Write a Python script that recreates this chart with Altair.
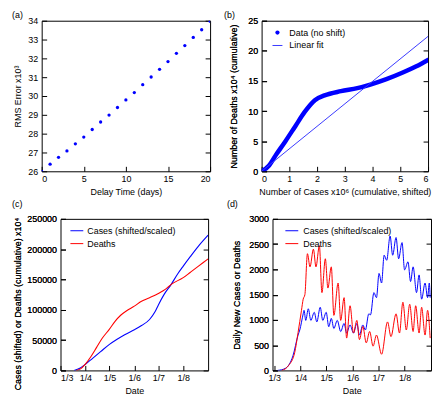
import altair as alt
import pandas as pd

FONT = "Liberation Sans"
BLUE = "#0000ff"
FIT_BLUE = "#3a3aff"
RED = "#ff0000"

# ---------------- data ----------------
# (a) RMS error vs delay
delay_days = list(range(21))
rms_error = [26.0, 26.38, 26.74, 27.08, 27.46, 27.82, 28.22, 28.62, 28.99, 29.39, 29.79,
             30.18, 30.6, 31.01, 31.42, 31.83, 32.27, 32.68, 33.11, 33.52, 33.97]

# (b) deaths vs cases (cumulative)
cases_shifted_m = [0, 0.27, 0.5, 0.86, 1.21, 1.56, 1.92, 2.27, 2.86, 3.45, 3.92, 4.5, 5.09, 5.56, 6.0]
deaths_cum_10k = [0, 0.97, 2.6, 5.0, 7.45, 9.9, 11.8, 12.6, 13.3, 13.8, 14.4, 15.3, 16.4, 17.4, 18.5]
fit_x = [0, 6]
fit_y = [0, 22.4]

# (c) cumulative series
cum_cases_dates = ["2020-03-18", "2020-03-25", "2020-04-01", "2020-04-10", "2020-04-20", "2020-05-01",
                   "2020-05-10", "2020-05-20", "2020-06-01", "2020-06-10", "2020-06-20", "2020-06-27",
                   "2020-07-01", "2020-07-08", "2020-07-17", "2020-07-25", "2020-08-01", "2020-08-10",
                   "2020-08-20", "2020-09-01"]
cum_cases_vals = [0, 3500, 10000, 20000, 31000, 43000, 51000, 59000, 67000, 74000, 84000, 97000,
                  108000, 125000, 142000, 159000, 172000, 188000, 205000, 223000]
cum_deaths_dates = ["2020-03-21", "2020-03-26", "2020-04-01", "2020-04-08", "2020-04-15", "2020-04-22",
                    "2020-05-01", "2020-05-08", "2020-05-15", "2020-05-22", "2020-06-01", "2020-06-10",
                    "2020-06-20", "2020-07-01", "2020-07-10", "2020-07-17", "2020-08-01", "2020-08-10",
                    "2020-08-20", "2020-09-01"]
cum_deaths_vals = [0, 2500, 10500, 23000, 38000, 53000, 68000, 81000, 91000, 98000, 106000, 114000,
                   120000, 127000, 134000, 142000, 153000, 162000, 172000, 184000]

# (d) daily series
daily_cases_dates = ["2020-03-05", "2020-03-14", "2020-03-23", "2020-03-29", "2020-03-31", "2020-04-04",
                     "2020-04-05", "2020-04-07", "2020-04-10", "2020-04-13", "2020-04-17", "2020-04-20",
                     "2020-04-24", "2020-04-27", "2020-05-01", "2020-05-04", "2020-05-07", "2020-05-10",
                     "2020-05-14", "2020-05-18", "2020-05-22", "2020-05-25", "2020-05-29", "2020-06-02",
                     "2020-06-06", "2020-06-09", "2020-06-13", "2020-06-16", "2020-06-20", "2020-06-22",
                     "2020-06-26", "2020-06-29", "2020-07-02", "2020-07-05", "2020-07-08", "2020-07-11",
                     "2020-07-15", "2020-07-18", "2020-07-22", "2020-07-25", "2020-07-29", "2020-08-01",
                     "2020-08-05", "2020-08-08", "2020-08-11", "2020-08-15", "2020-08-18", "2020-08-21",
                     "2020-08-25", "2020-08-28", "2020-08-30", "2020-08-31"]
daily_cases_vals = [0, 40, 290, 700, 800, 1120, 1190, 990, 1220, 990, 1150, 960,
                    1250, 990, 1150, 865, 1030, 830, 990, 770, 930, 740, 900, 740,
                    930, 700, 900, 800, 1120, 1100, 1540, 1440, 1920, 1730, 2280, 2180,
                    2660, 2280, 2630, 2210, 2530, 1990, 2150, 1760, 2050, 1540, 1890, 1410,
                    1730, 1440, 1730, 1440]
daily_deaths_dates = ["2020-03-10", "2020-03-18", "2020-03-25", "2020-03-29", "2020-04-02", "2020-04-04",
                      "2020-04-06", "2020-04-09", "2020-04-12", "2020-04-16", "2020-04-19", "2020-04-23",
                      "2020-04-26", "2020-04-30", "2020-05-03", "2020-05-07", "2020-05-10", "2020-05-15",
                      "2020-05-18", "2020-05-22", "2020-05-25", "2020-05-29", "2020-06-02", "2020-06-06",
                      "2020-06-09", "2020-06-13", "2020-06-17", "2020-06-21", "2020-06-25", "2020-06-29",
                      "2020-07-05", "2020-07-12", "2020-07-16", "2020-07-22", "2020-07-26", "2020-07-30",
                      "2020-08-03", "2020-08-07", "2020-08-11", "2020-08-14", "2020-08-18", "2020-08-21",
                      "2020-08-25", "2020-08-28", "2020-08-31"]
daily_deaths_vals = [0, 100, 350, 750, 1190, 1410, 1500, 2310, 2050, 2400, 2050, 2470,
                     1540, 2210, 1630, 2050, 1090, 1730, 990, 1440, 640, 1280, 740, 990,
                     610, 870, 545, 770, 480, 700, 320, 960, 670, 1120, 740, 1350,
                     800, 1310, 770, 1280, 740, 1250, 700, 1190, 640]

legend_b = ["Data (no shift)", "Linear fit"]
legend_cd = ["Cases (shifted/scaled)", "Deaths"]
panel_titles = ["(a)", "(b)", "(c)", "(d)"]
month_starts = [3, 4, 5, 6, 7, 8]

# ---------------- helpers ----------------
TICK = 5


def left_axis(title, values, fmt=None, title_pad=8, title_y=None):
    kw = dict(title=title, values=values, orient="left", offset=-TICK, tickSize=TICK,
              labelPadding=4, titlePadding=title_pad)
    if fmt:
        kw["format"] = fmt
    if title_y is not None:
        kw["titleY"] = title_y
    return alt.Axis(**kw)


def right_axis(values):
    # mirrored inward ticks on the right edge
    return alt.Axis(title=None, values=values, orient="right", offset=-TICK, tickSize=TICK,
                    labels=False)


def bottom_axis(title, values, fmt=None):
    kw = dict(title=title, values=values, orient="bottom", offset=-TICK, tickSize=TICK,
              labelPadding=3, titlePadding=4)
    if fmt:
        kw["format"] = fmt
    return alt.Axis(**kw)


def text_layer(label, dx, dy, baseline="middle"):
    return alt.Chart(pd.DataFrame({"label": [label]})).mark_text(
        align="left", baseline=baseline, font=FONT, fontSize=9, color="black"
    ).encode(x=alt.value(dx), y=alt.value(dy), text="label:N")


def legend_layers(labels, kinds, colors, sym_x, text_x):
    layers = []
    for i, (lab, kind, col) in enumerate(zip(labels, kinds, colors)):
        yy = 12 + 13 * i
        base = alt.Chart(pd.DataFrame({"label": [lab]}))
        if kind == "line":
            sym = base.mark_rule(color=col, strokeWidth=1).encode(
                x=alt.value(sym_x[0]), x2=alt.value(sym_x[1]), y=alt.value(yy))
        else:
            sym = base.mark_circle(color=col, size=18, opacity=1).encode(
                x=alt.value((sym_x[0] + sym_x[1]) / 2), y=alt.value(yy))
        layers += [sym, text_layer(lab, text_x, yy)]
    return layers


def month_values():
    return [alt.DateTime(year=2020, month=m, date=1, utc=True) for m in month_starts]


def spacer():
    return alt.Chart(pd.DataFrame({"v": [0]})).mark_point(opacity=0, size=0).properties(
        width=1, height=1, view=alt.ViewBackground(stroke="transparent"))


H1 = 152
H2 = 153

# ---------------- (a) ----------------
df_a = pd.DataFrame({"delay": delay_days, "rms": rms_error})
ya_scale = alt.Scale(domain=[26, 34], nice=False, zero=False)
ya_vals = list(range(26, 35))
pts_a = alt.Chart(df_a).mark_circle(color=BLUE, size=11, opacity=1, clip=True).encode(
    x=alt.X("delay:Q", scale=alt.Scale(domain=[0, 20], nice=False),
            axis=bottom_axis("Delay Time (days)", [0, 5, 10, 15, 20])),
    y=alt.Y("rms:Q", scale=ya_scale, axis=left_axis("RMS Error x10³", ya_vals, title_pad=5)),
)
mir_a = alt.Chart(df_a).mark_circle(opacity=0).encode(
    y=alt.Y("rms:Q", scale=ya_scale, axis=right_axis(ya_vals)))
chart_a = alt.layer(pts_a, mir_a, text_layer(panel_titles[0], -30, -10, "top")).resolve_axis(
    y="independent").properties(width=170, height=H1)

# ---------------- (b) ----------------
df_b = pd.DataFrame({"cases": cases_shifted_m, "deaths": deaths_cum_10k})
df_fit = pd.DataFrame({"cases": fit_x, "deaths": fit_y})
xb = alt.X("cases:Q", scale=alt.Scale(domain=[0, 6], nice=False),
           axis=bottom_axis("Number of Cases x10⁶ (cumulative, shifted)", [0, 1, 2, 3, 4, 5, 6]))
yb_scale = alt.Scale(domain=[0, 25], nice=False)
yb_vals = [0, 5, 10, 15, 20, 25]
yb_axis = left_axis("Number of Deaths x10⁴ (cumulative)", yb_vals, title_pad=9)
data_b = alt.Chart(df_b).mark_line(color=BLUE, strokeWidth=4.5, interpolate="monotone",
                                   strokeCap="round", clip=True).encode(
    x=xb, y=alt.Y("deaths:Q", scale=yb_scale, axis=yb_axis))
fit_b = alt.Chart(df_fit).mark_line(color=FIT_BLUE, strokeWidth=1, clip=True).encode(
    x=xb, y=alt.Y("deaths:Q", scale=yb_scale, axis=yb_axis))
mir_b = alt.Chart(df_b).mark_circle(opacity=0).encode(
    y=alt.Y("deaths:Q", scale=yb_scale, axis=right_axis(yb_vals)))
leg_b = legend_layers(legend_b, ["point", "line"], [BLUE, FIT_BLUE], (11, 21), 28)
chart_b = alt.layer(data_b, fit_b, mir_b, *leg_b,
                    text_layer(panel_titles[1], -38, -10, "top")).resolve_axis(
    y="independent").properties(width=168, height=H1)

# ---------------- (c) ----------------
df_cc = pd.DataFrame({"date": cum_cases_dates, "v": cum_cases_vals})
df_cd = pd.DataFrame({"date": cum_deaths_dates, "v": cum_deaths_vals})
xc = alt.X("date:T", scale=alt.Scale(type="utc", domain=[
    alt.DateTime(year=2020, month=3, date=1, utc=True),
    alt.DateTime(year=2020, month=9, date=1, utc=True)]),
    axis=bottom_axis("Date", month_values(), fmt="%-d/%-m"))
yc_scale = alt.Scale(domain=[0, 250000], nice=False)
yc_vals = [0, 50000, 100000, 150000, 200000, 250000]
yc_axis = left_axis("Cases (shifted) or Deaths (cumulative) x10⁴", yc_vals, fmt="d", title_pad=4,
                    title_y=H2 / 2 + 9)
line_cc = alt.Chart(df_cc).mark_line(color=BLUE, strokeWidth=1.1, interpolate="monotone",
                                     clip=True).encode(x=xc, y=alt.Y("v:Q", scale=yc_scale, axis=yc_axis))
line_cd = alt.Chart(df_cd).mark_line(color=RED, strokeWidth=1.1, interpolate="monotone",
                                     clip=True).encode(x=xc, y=alt.Y("v:Q", scale=yc_scale, axis=yc_axis))
mir_c = alt.Chart(df_cc).mark_circle(opacity=0).encode(
    y=alt.Y("v:Q", scale=yc_scale, axis=right_axis(yc_vals)))
leg_c = legend_layers(legend_cd, ["line", "line"], [BLUE, RED], (10, 23), 27)
chart_c = alt.layer(line_cc, line_cd, mir_c, *leg_c,
                    text_layer(panel_titles[2], -49, -19, "top")).resolve_axis(
    y="independent").properties(width=149, height=H2)

# ---------------- (d) ----------------
df_dc = pd.DataFrame({"date": daily_cases_dates, "v": daily_cases_vals})
df_dd = pd.DataFrame({"date": daily_deaths_dates, "v": daily_deaths_vals})
xd = alt.X("date:T", scale=alt.Scale(type="utc", domain=[
    alt.DateTime(year=2020, month=2, date=28, utc=True),
    alt.DateTime(year=2020, month=9, date=1, utc=True)]),
    axis=bottom_axis("Date", month_values(), fmt="%-d/%-m"))
yd_scale = alt.Scale(domain=[0, 3000], nice=False)
yd_vals = [0, 500, 1000, 1500, 2000, 2500, 3000]
yd_axis = left_axis("Daily New Cases or Deaths", yd_vals, fmt="d", title_pad=7)
line_dc = alt.Chart(df_dc).mark_line(color=BLUE, strokeWidth=1, interpolate="monotone",
                                     clip=True).encode(x=xd, y=alt.Y("v:Q", scale=yd_scale, axis=yd_axis))
line_dd = alt.Chart(df_dd).mark_line(color=RED, strokeWidth=1, interpolate="monotone",
                                     clip=True).encode(x=xd, y=alt.Y("v:Q", scale=yd_scale, axis=yd_axis))
mir_d = alt.Chart(df_dc).mark_circle(opacity=0).encode(
    y=alt.Y("v:Q", scale=yd_scale, axis=right_axis(yd_vals)))
leg_d = legend_layers(legend_cd, ["line", "line"], [BLUE, RED], (13, 26), 31)
chart_d = alt.layer(line_dc, line_dd, mir_d, *leg_d,
                    text_layer(panel_titles[3], -46, -19, "top")).resolve_axis(
    y="independent").properties(width=160, height=H2)

row1 = alt.hconcat(spacer(), alt.hconcat(chart_a, chart_b, spacing=12), spacing=0)
row2 = alt.hconcat(spacer(), alt.hconcat(chart_c, chart_d, spacing=17), spacing=0)
chart = alt.vconcat(row1, row2, spacing=2).properties(padding=0).configure_view(
    stroke="black", strokeWidth=1
).configure_axis(
    grid=False, domain=False, tickColor="black", tickWidth=1,
    labelFont=FONT, labelFontSize=9, labelColor="black",
    titleFont=FONT, titleFontSize=9, titleFontWeight="normal", titleColor="black",
)

chart.save("out.html", embed_options={"renderer": "svg", "actions": False})
